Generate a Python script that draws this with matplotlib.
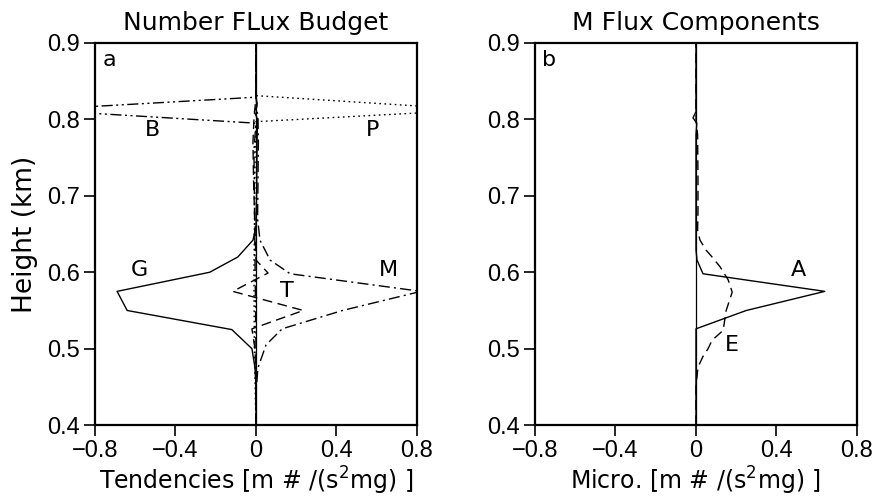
import numpy as np
import matplotlib.pyplot as plt

# ---- panel a: number flux budget terms (tendency, height in km) ----
g_z = [0.40, 0.45, 0.475, 0.50, 0.525, 0.55, 0.575, 0.60, 0.62, 0.642, 0.66, 0.70, 0.75, 0.78, 0.80, 0.81, 0.82, 0.83, 0.90]
g_x = [0.0, 0.0, -0.005, -0.02, -0.12, -0.64, -0.69, -0.23, -0.09, -0.015, 0.0, 0.003, 0.005, 0.006, 0.008, -0.008, 0.006, 0.0, 0.0]

m_z = [0.40, 0.45, 0.475, 0.505, 0.526, 0.55, 0.575, 0.598, 0.616, 0.642, 0.67, 0.72, 0.77, 0.80, 0.83, 0.90]
m_x = [0.0, 0.002, 0.01, 0.05, 0.13, 0.43, 0.82, 0.17, 0.07, 0.02, 0.008, 0.01, 0.012, 0.01, 0.0, 0.0]

t_z = [0.40, 0.47, 0.50, 0.526, 0.55, 0.575, 0.599, 0.616, 0.66, 0.72, 0.77, 0.80, 0.83, 0.90]
t_x = [0.0, 0.0, -0.005, -0.02, 0.235, -0.115, 0.06, 0.0, -0.005, -0.012, -0.015, -0.01, 0.0, 0.0]

b_z = [0.40, 0.50, 0.60, 0.70, 0.76, 0.795, 0.8125, 0.829, 0.90]
b_x = [0.0, 0.0, -0.004, -0.008, -0.01, 0.0, -1.1, 0.0, 0.0]

p_z = [0.40, 0.50, 0.60, 0.70, 0.76, 0.797, 0.8125, 0.831, 0.90]
p_x = [0.0, -0.008, -0.01, -0.006, -0.004, 0.0, 1.1, 0.0, 0.0]

# ---- panel b: M flux components ----
a_z = [0.40, 0.45, 0.50, 0.526, 0.55, 0.575, 0.598, 0.616, 0.629, 0.70, 0.78, 0.795, 0.802, 0.81, 0.90]
a_x = [0.0, 0.0, 0.0, 0.0, 0.25, 0.64, 0.035, 0.005, 0.0, 0.0, 0.0, 0.004, -0.015, 0.0, 0.0]

e_z = [0.40, 0.45, 0.476, 0.49, 0.50, 0.511, 0.524, 0.55, 0.574, 0.59, 0.607, 0.62, 0.629, 0.642, 0.655, 0.68, 0.72, 0.78, 0.80, 0.83, 0.90]
e_x = [0.0, 0.0, 0.01, 0.035, 0.06, 0.08, 0.135, 0.15, 0.18, 0.16, 0.12, 0.08, 0.05, 0.02, 0.008, 0.01, 0.01, 0.008, 0.0, 0.0, 0.0]

xticks = [-0.8, -0.4, 0, 0.4, 0.8]
xtick_labels = ['\u22120.8', '\u22120.4', '0', '0.4', '0.8']
yticks = [0.4, 0.5, 0.6, 0.7, 0.8, 0.9]

plt.rcParams['font.family'] = ['DejaVu Sans']
plt.rcParams['mathtext.fontset'] = 'dejavusans'

fig = plt.figure(figsize=(8.76, 4.99), dpi=100)
ax1 = fig.add_axes([0.1084, 0.148, 0.3676, 0.766])
ax2 = fig.add_axes([0.6107, 0.148, 0.3676, 0.766])

lw = 1.0
ax1.plot(g_x, g_z, color='black', lw=lw, ls='-')
ax1.plot(m_x, m_z, color='black', lw=lw, ls=(0, (8, 3, 1.5, 3)))
ax1.plot(t_x, t_z, color='black', lw=lw, ls=(0, (7, 4)))
ax1.plot(b_x, b_z, color='black', lw=lw, ls=(0, (8, 2.5, 1.5, 2.5, 1.5, 2.5)))
ax1.plot(p_x, p_z, color='black', lw=lw, ls=(0, (1.2, 2.5)))

ax2.plot(a_x, a_z, color='black', lw=lw, ls='-')
ax2.plot(e_x, e_z, color='black', lw=lw, ls=(0, (7, 4)))

tick_font = ['Liberation Sans', 'DejaVu Sans']
for ax in (ax1, ax2):
    ax.axvline(0, color='black', lw=0.9)
    ax.set_xlim(-0.8, 0.8)
    ax.set_ylim(0.4, 0.9)
    ax.set_xticks(xticks)
    ax.set_xticklabels(xtick_labels, family=tick_font, fontsize=17)
    ax.set_yticks(yticks)
    ax.set_yticklabels(['%.1f' % v for v in yticks], family=tick_font, fontsize=17)
    ax.tick_params(direction='out', length=8, width=1.2, top=False, right=False, pad=3)
    for s in ax.spines.values():
        s.set_linewidth(1.6)

# curve labels
lab = dict(fontsize=16, ha='center', va='center')
ax1.text(-0.727, 0.877, 'a', **lab)
ax1.text(-0.512, 0.786, 'B', **lab)
ax1.text(0.577, 0.786, 'P', **lab)
ax1.text(-0.58, 0.603, 'G', **lab)
ax1.text(0.657, 0.603, 'M', **lab)
ax1.text(0.154, 0.575, 'T', **lab)

ax2.text(-0.73, 0.877, 'b', **lab)
ax2.text(0.507, 0.603, 'A', **lab)
ax2.text(0.179, 0.505, 'E', **lab)

ax1.set_title('Number FLux Budget', fontsize=18, pad=9)
ax2.set_title('M Flux Components', fontsize=18, pad=9)
ax1.set_ylabel('Height (km)', fontsize=19, labelpad=6)
ax1.set_xlabel('Tendencies [m # /(s$^{2}$mg) ]', fontsize=17, labelpad=2)
ax2.set_xlabel('Micro. [m # /(s$^{2}$mg) ]', fontsize=17, labelpad=2)

fig.savefig('out.png', dpi=100)
